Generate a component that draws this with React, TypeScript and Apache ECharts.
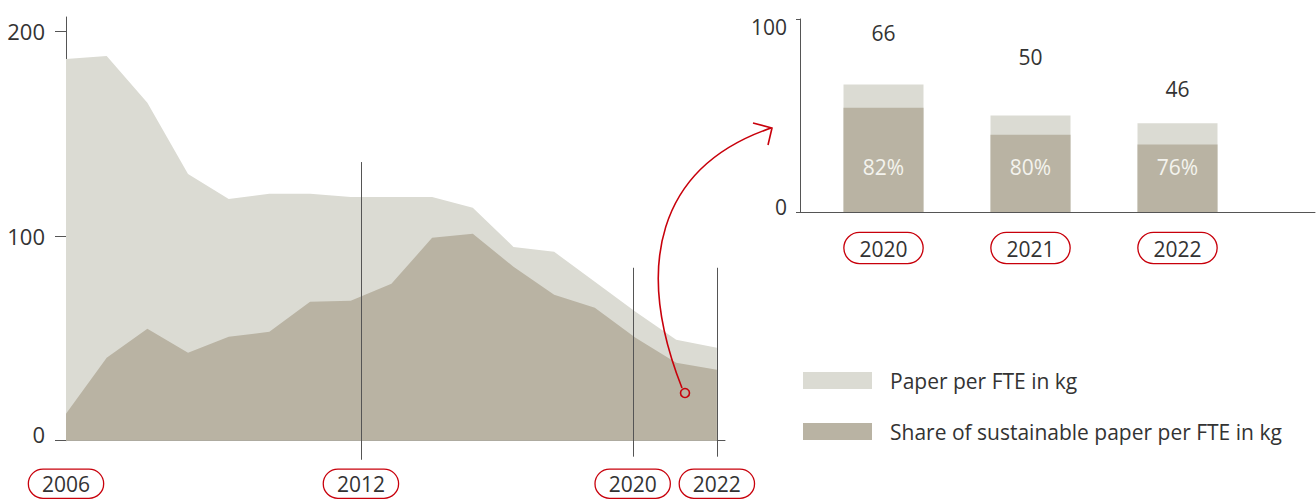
import React, { useEffect, useRef } from 'react';
import * as echarts from 'echarts';

// Left chart: paper per FTE (kg), 17 periods from 2006 to 2022
const paperPerFte = [186.3, 187.8, 164.9, 130.2, 118, 120.5, 120.5, 119, 119, 119, 113.7, 94.6, 92.2, 77.6, 62.9, 49.3, 45.4];
const sustainablePerFte = [13.2, 40.5, 54.6, 42.9, 50.7, 53.2, 67.8, 68.3, 76.6, 99, 101, 84.9, 71.2, 64.9, 50.2, 38, 34.6];
const timelineLabels = ['2006', '2012', '2020', '2022'];
const timelinePos = [0, 7.25, 13.93, 16];
const guideLines = [
  [7.25, 136, -9.3],
  [13.93, 84.4, -7.8],
  [16, 84.4, -7.8],
];

// Right chart
const barYears = ['2020', '2021', '2022'];
const barTotals = [66, 50, 46];
const barSustainable = [54, 40, 35];
const barShares = ['82%', '80%', '76%'];
const totalLabelGap = [41, 48, 24];

const SERIES_A = 'Paper per FTE in kg';
const SERIES_B = 'Share of sustainable paper per FTE in kg';

const textColor = '#333333';
const light = '#dbdbd3';
const dark = '#b9b3a3';
const red = '#c8000b';
const axisGrey = '#555555';
const font = '"Open Sans", "Noto Sans", sans-serif';

const boxLabel = {
  color: textColor,
  fontSize: 21,
  fontFamily: font,
  borderColor: red,
  borderWidth: 1.3,
  borderRadius: 16,
  backgroundColor: '#ffffff',
  padding: [4, 13, 3, 13],
};

export default function App() {
  const ref = useRef<HTMLDivElement>(null);
  useEffect(() => {
    if (!ref.current) return;
    const chart = echarts.init(ref.current, undefined, { renderer: 'svg' });
    const option: any = {
      animation: false,
      textStyle: { fontFamily: font },
      grid: [
        { left: 66, top: 17, width: 659, height: 424 },
        { left: 810, top: 19, width: 441, height: 193 },
        { left: 800, top: 19, width: 515, height: 193 },
      ],
      xAxis: [
        {
          gridIndex: 0,
          type: 'value',
          min: 0,
          max: 16.2,
          axisLine: { show: true, onZero: false, lineStyle: { color: axisGrey, width: 1 } },
          axisTick: { show: false },
          splitLine: { show: false },
          axisLabel: {
            ...boxLabel,
            customValues: timelinePos,
            margin: 29,
            formatter: (v: number) => {
              const i = timelinePos.indexOf(v);
              return i >= 0 ? timelineLabels[i] : '';
            },
          },
        },
        {
          gridIndex: 1,
          type: 'category',
          data: barYears,
          axisLine: { show: false },
          axisTick: { show: false },
          axisLabel: { ...boxLabel, margin: 21, padding: [5, 15, 4, 15] },
        },
        {
          gridIndex: 2,
          type: 'value',
          min: 0,
          max: 1,
          axisLine: { show: true, onZero: false, lineStyle: { color: axisGrey, width: 1 } },
          axisTick: { show: false },
          axisLabel: { show: false },
          splitLine: { show: false },
        },
      ],
      yAxis: [
        {
          gridIndex: 0,
          type: 'value',
          min: 0,
          max: 206.8,
          interval: 100,
          axisLine: { show: true, onZero: false, lineStyle: { color: axisGrey, width: 1 } },
          axisTick: { show: true, length: 11, lineStyle: { color: axisGrey } },
          splitLine: { show: false },
          axisLabel: {
            margin: 21,
            formatter: (v: number) => (v === 0 ? '{lo|0}' : '{n|' + v + '}'),
            rich: {
              n: { fontSize: 22, color: textColor, fontFamily: font },
              lo: { fontSize: 22, color: textColor, fontFamily: font, padding: [0, 0, 14, 0] },
            },
          },
        },
        {
          gridIndex: 1,
          type: 'value',
          min: 0,
          max: 100,
          interval: 100,
          offset: 10,
          axisLine: { show: true, onZero: false, lineStyle: { color: axisGrey, width: 1 } },
          axisTick: { show: true, length: 4, lineStyle: { color: axisGrey } },
          splitLine: { show: false },
          axisLabel: {
            margin: 13,
            formatter: (v: number) => (v === 0 ? '{lo|0}' : '{hi|' + v + '}'),
            rich: {
              hi: { fontSize: 21, color: textColor, fontFamily: font, padding: [16, 0, 0, 0] },
              lo: { fontSize: 21, color: textColor, fontFamily: font, padding: [0, 0, 10, 0] },
            },
          },
        },
        { gridIndex: 2, type: 'value', min: 0, max: 1, show: false },
      ],
      legend: {
        orient: 'vertical',
        left: 798,
        top: 365,
        itemWidth: 69,
        itemHeight: 17,
        itemGap: 30,
        icon: 'rect',
        selectedMode: false,
        textStyle: { fontSize: 21, color: textColor, fontFamily: font, padding: [0, 0, 0, 13] },
        data: [
          { name: SERIES_A, itemStyle: { color: light } },
          { name: SERIES_B, itemStyle: { color: dark } },
        ],
      },
      series: [
        {
          name: SERIES_A,
          type: 'line',
          xAxisIndex: 0,
          yAxisIndex: 0,
          data: paperPerFte.map((v, i) => [i, v]),
          symbol: 'none',
          lineStyle: { width: 0, color: light },
          itemStyle: { color: light },
          areaStyle: { color: light, opacity: 1 },
          z: 1,
        },
        {
          name: SERIES_B,
          type: 'line',
          xAxisIndex: 0,
          yAxisIndex: 0,
          data: sustainablePerFte.map((v, i) => [i, v]),
          symbol: 'none',
          lineStyle: { width: 0, color: dark },
          itemStyle: { color: dark },
          areaStyle: { color: dark, opacity: 1 },
          z: 2,
        },
        {
          type: 'custom',
          xAxisIndex: 0,
          yAxisIndex: 0,
          clip: false,
          z: 5,
          silent: true,
          encode: { x: 0, y: [1, 2] },
          data: guideLines,
          renderItem: (_params: any, api: any) => {
            const x = api.value(0);
            const p1 = api.coord([x, api.value(1)]);
            const p2 = api.coord([x, api.value(2)]);
            return {
              type: 'line',
              shape: { x1: Math.round(p1[0]) + 0.5, y1: p1[1], x2: Math.round(p2[0]) + 0.5, y2: p2[1] },
              style: { stroke: axisGrey, lineWidth: 1 },
            };
          },
        },
        {
          name: SERIES_A,
          type: 'bar',
          xAxisIndex: 1,
          yAxisIndex: 1,
          barWidth: 80,
          barGap: '-100%',
          itemStyle: { color: light },
          data: barTotals.map((v, i) => ({
            value: v,
            label: {
              show: true,
              position: 'top',
              distance: totalLabelGap[i],
              fontSize: 21,
              color: textColor,
              fontFamily: font,
            },
          })),
        },
        {
          name: SERIES_B,
          type: 'bar',
          xAxisIndex: 1,
          yAxisIndex: 1,
          barWidth: 80,
          barGap: '-100%',
          itemStyle: { color: dark },
          label: {
            show: true,
            position: 'insideBottom',
            distance: 35,
            fontSize: 21,
            color: '#f4f3ee',
            fontFamily: font,
            formatter: (p: any) => barShares[p.dataIndex],
          },
          data: barSustainable,
        },
      ],
      graphic: [
        {
          type: 'bezierCurve',
          z: 100,
          shape: { x1: 682, y1: 388, cpx1: 634, cpy1: 266, cpx2: 657, cpy2: 167, x2: 771, y2: 128 },
          style: { stroke: red, lineWidth: 1.6, fill: 'none' },
        },
        {
          type: 'polyline',
          z: 100,
          shape: { points: [[753, 123], [772, 128], [768, 145]] },
          style: { stroke: red, lineWidth: 1.6, fill: 'none' },
        },
        {
          type: 'circle',
          z: 100,
          shape: { cx: 685, cy: 393, r: 4.5 },
          style: { stroke: red, lineWidth: 1.6, fill: 'none' },
        },
      ],
    };
    chart.setOption(option);
    return () => chart.dispose();
  }, []);
  return (
    <div
      ref={ref}
      style={{ position: 'fixed', left: 0, top: 0, width: 1316, height: 499, background: '#ffffff' }}
    />
  );
}
